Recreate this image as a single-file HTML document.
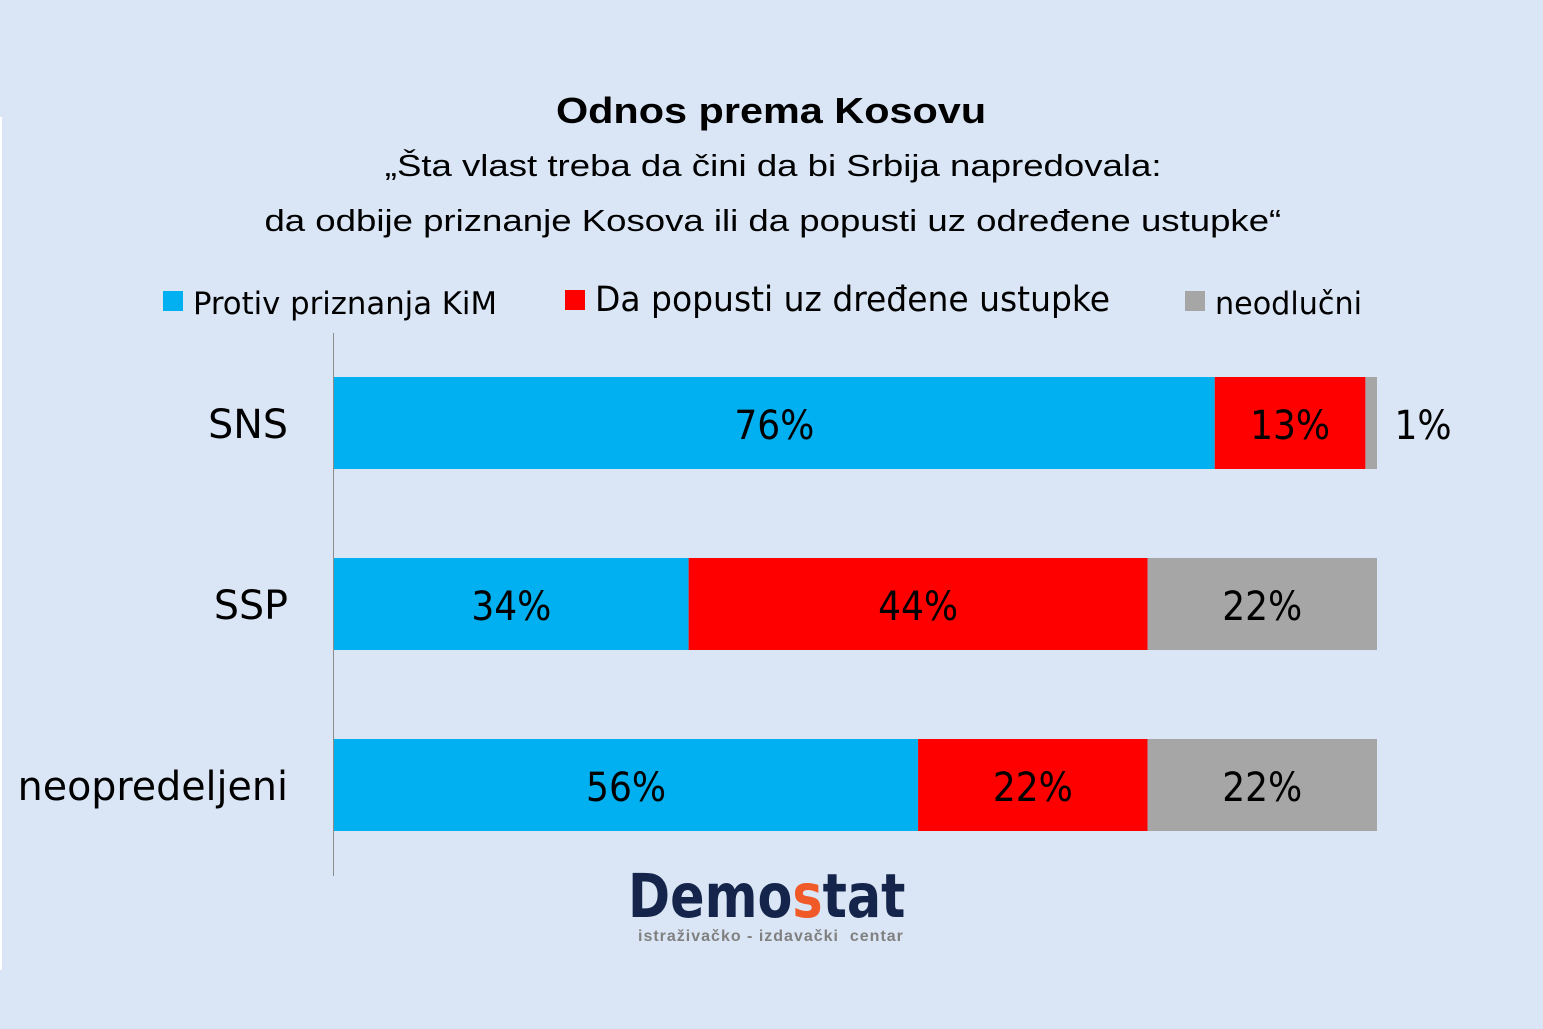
<!DOCTYPE html>
<html><head><meta charset="utf-8"><style>
html,body{margin:0;padding:0}
body{width:1543px;height:1029px;background:#dae6f5;position:relative;overflow:hidden;font-family:"Liberation Sans",sans-serif}
.t{position:absolute;left:0;width:1543px;text-align:center;color:#000}
.t span{display:inline-block}
</style></head><body>
<div style="position:absolute;left:0;top:117px;width:2px;height:853px;background:#fff"></div>
<div class="t" style="top:90px;font-size:36px;font-weight:bold;left:0px"><span style="transform:scaleX(1.15)">Odnos prema Kosovu</span></div>
<div class="t" style="top:148px;font-size:31px;left:2px"><span style="transform:scaleX(1.18)">„Šta vlast treba da čini da bi Srbija napredovala:</span></div>
<div class="t" style="top:203px;font-size:31px;left:1px"><span style="transform:scaleX(1.18)">da odbije priznanje Kosova ili da popusti uz određene ustupke“</span></div>
<svg id="chart" width="1543" height="1029" style="position:absolute;left:0;top:0"></svg>
<div style="position:absolute;left:628px;top:862px;width:300px">
<div style="font-family:'DejaVu Sans Condensed','Liberation Sans',sans-serif;font-weight:bold;font-size:61px;color:#14244a;line-height:70px;transform:scaleX(0.925);transform-origin:left">Demo<span style="color:#f05a28">s</span>tat</div>
<div style="font-family:'Liberation Sans',sans-serif;font-weight:bold;font-size:16px;color:#808080;letter-spacing:1px;margin-left:10px;margin-top:-4px">istraživačko - izdavački&nbsp; centar</div>
</div>
<script>
const categories=["SNS","SSP","neopredeljeni"];
const protiv=[76,34,56];
const popusti=[13,44,22];
const neodlucni=[1,22,22];
const seriesNames=["Protiv priznanja KiM","Da popusti uz dređene ustupke","neodlučni"];
const colors=["#00b0f0","#ff0000","#a6a6a6"];
const NS="http://www.w3.org/2000/svg";
const svg=document.getElementById('chart');
const x0=334,W=1043,rowTop=377,rowStep=181,barH=92;
const FF='"DejaVu Sans Condensed","Liberation Sans",sans-serif';
function el(t,a){const e=document.createElementNS(NS,t);for(const k in a)e.setAttribute(k,a[k]);svg.appendChild(e);return e;}
const axis=el('line',{x1:333.5,y1:333,x2:333.5,y2:876,stroke:'#8c8c8c','stroke-width':1});


const series=[protiv,popusti,neodlucni];
const segNames=["protiv","popusti","neodlucni"];
categories.forEach((c,i)=>{
  const y=rowTop+i*rowStep;
  const total=protiv[i]+popusti[i]+neodlucni[i];
  const lab=el('text',{x:288,y:y+barH/2+15,'text-anchor':'end','font-size':40,'font-family':FF,fill:'#000'});
  lab.textContent=c;
  lab.setAttribute('transform','translate(288,0) scale(1.1,1) translate(-288,0)');
  
  
  let x=x0;
  series.forEach((s,j)=>{
    const w=s[i]/total*W;
    const r=el('rect',{x:x,y:y,width:w,height:barH,fill:colors[j]});
    
    
    const small=w<40;
    const tx=small?x+w+46:x+w/2;
    const t=el('text',{x:tx,y:y+barH/2+16,'text-anchor':'middle','font-size':40,'font-family':FF,fill:'#000'});
    t.textContent=s[i]+'%';
    
    
    x+=w;
  });
});
const legX=[163,565,1185];
const legLen=[304,515,147];
seriesNames.forEach((n,j)=>{
  const sq=el('rect',{x:legX[j],y:j==1?290:291,width:20,height:20,fill:colors[j]});
  
  
  const t=el('text',{x:legX[j]+30,y:j==1?311:314,'font-size':j==1?35:31,'font-family':FF,fill:'#000',textLength:legLen[j],lengthAdjust:'spacingAndGlyphs'});
  t.textContent=n;
  
  
});
</script>
</body></html>
